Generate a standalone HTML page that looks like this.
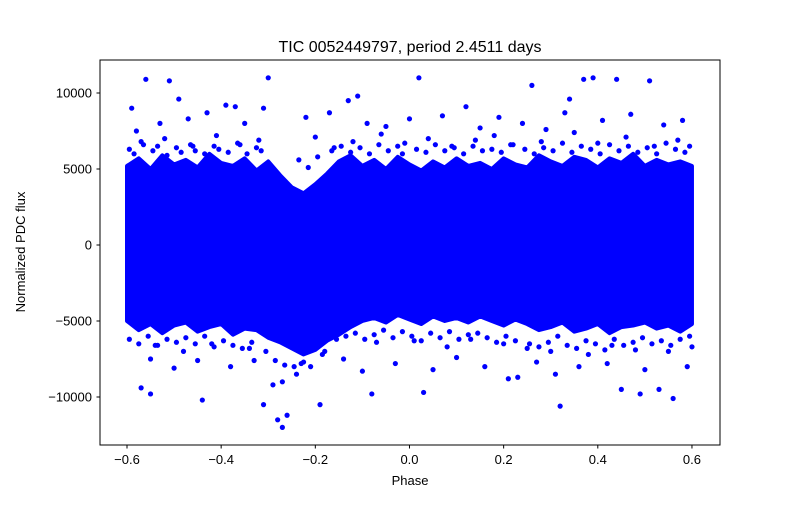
<!DOCTYPE html>
<html><head><meta charset="utf-8"><style>
body{margin:0;background:#fff}
text{font-family:"Liberation Sans","DejaVu Sans",sans-serif;fill:#000}
</style></head><body>
<svg id="chart" width="800" height="500" viewBox="0 0 800 500" xmlns="http://www.w3.org/2000/svg">
<rect width="800" height="500" fill="#fff"/>
<g id="marks"></g>
<rect x="100" y="60" width="620" height="385" fill="none" stroke="#000" stroke-width="1"/>
<g id="axes"></g>
<text x="410" y="52" font-size="16" text-anchor="middle">TIC 0052449797, period 2.4511 days</text>
<text x="410" y="485" font-size="13" text-anchor="middle">Phase</text>
<text x="25" y="252" font-size="13" text-anchor="middle" transform="rotate(-90 25 252)">Normalized PDC flux</text>
</svg>
<script>
const binPhase=[-0.6,-0.575,-0.55,-0.525,-0.5,-0.475,-0.45,-0.425,-0.4,-0.375,-0.35,-0.325,-0.3,-0.275,-0.25,-0.225,-0.2,-0.175,-0.15,-0.125,-0.1,-0.075,-0.05,-0.025,0,0.025,0.05,0.075,0.1,0.125,0.15,0.175,0.2,0.225,0.25,0.275,0.3,0.325,0.35,0.375,0.4,0.425,0.45,0.475,0.5,0.525,0.55,0.575,0.6];
const bandUpper=[5200,5700,5000,5900,5300,5600,5100,6000,5400,5200,5700,4900,5500,4600,3800,3400,4000,4700,5500,5900,5200,5600,5000,5800,5300,4900,5500,5100,5700,5200,5400,5000,5700,5300,5100,5900,5500,5200,5800,5600,5100,5700,5400,6000,5200,5600,5300,5500,5200];
const bandLower=[-5000,-5600,-5200,-5800,-5300,-5100,-5700,-5400,-5200,-5900,-5500,-5600,-6100,-6400,-6800,-7200,-6900,-6300,-5900,-5400,-5000,-4800,-5100,-4600,-4900,-5200,-4700,-5000,-4800,-5100,-4700,-5000,-5300,-4900,-5200,-5600,-5400,-5100,-5700,-5500,-5200,-5800,-5400,-5300,-5100,-5500,-5300,-5700,-5200];
const outPhase=[-0.56,-0.51,-0.30,0.02,0.26,0.37,0.39,0.44,0.51,-0.59,-0.49,-0.39,-0.37,-0.31,-0.11,-0.13,0.12,0.34,-0.27,-0.28,-0.26,-0.31,-0.19,-0.44,-0.55,-0.57,-0.08,0.03,0.21,0.23,0.32,0.45,0.49,0.56,0.53,
-0.58,-0.53,-0.47,-0.43,-0.35,-0.22,-0.17,-0.09,-0.05,0.0,0.07,0.15,0.19,0.24,0.29,0.33,0.41,0.47,0.54,0.58,
-0.55,-0.5,-0.45,-0.38,-0.33,-0.29,-0.24,-0.21,-0.14,-0.1,-0.03,0.05,0.1,0.16,0.27,0.31,0.36,0.42,0.5,0.59,
-0.57,-0.52,-0.46,-0.41,-0.36,-0.32,-0.2,-0.16,-0.12,-0.06,-0.01,0.04,0.09,0.14,0.18,0.22,0.28,0.35,0.4,0.46,0.52,0.57,
-0.54,-0.48,-0.42,-0.34,-0.27,-0.23,-0.18,-0.07,0.01,0.08,0.13,0.2,0.25,0.3,0.38,0.43,0.48,0.55,0.6,
-0.595,-0.585,-0.565,-0.545,-0.535,-0.515,-0.495,-0.485,-0.465,-0.455,-0.435,-0.415,-0.405,-0.385,-0.365,-0.345,-0.325,-0.315,-0.235,-0.215,-0.195,-0.165,-0.145,-0.125,-0.105,-0.085,-0.065,-0.045,-0.025,-0.015,0.015,0.035,0.055,0.075,0.095,0.115,0.135,0.155,0.175,0.195,0.215,0.245,0.265,0.285,0.305,0.325,0.345,0.365,0.385,0.405,0.425,0.445,0.465,0.485,0.505,0.525,0.545,0.565,0.585,0.595,
-0.595,-0.575,-0.555,-0.535,-0.515,-0.495,-0.475,-0.455,-0.435,-0.415,-0.395,-0.375,-0.355,-0.335,-0.305,-0.285,-0.265,-0.245,-0.225,-0.185,-0.155,-0.135,-0.115,-0.095,-0.075,-0.055,-0.035,-0.015,0.005,0.025,0.045,0.065,0.085,0.105,0.125,0.145,0.165,0.185,0.205,0.225,0.255,0.275,0.295,0.315,0.335,0.355,0.375,0.395,0.415,0.435,0.455,0.475,0.495,0.515,0.535,0.555,0.575,0.595];
const outFlux=[10900,10800,11000,11000,10500,10900,11000,10900,10800,9000,9600,9200,9100,9000,9800,9500,9100,9600,-12000,-11500,-11200,-10500,-10500,-10200,-9800,-9400,-9800,-9700,-8800,-8700,-10600,-9500,-9800,-10100,-9500,
7500,8000,8300,8700,8000,8400,8700,8000,7800,8300,8500,7700,8400,8000,7600,8700,8200,8600,7900,8200,
-7500,-8100,-7600,-8000,-7600,-9200,-8500,-8000,-7500,-8300,-7800,-8200,-7400,-8000,-7700,-8500,-8000,-7800,-8200,-8000,
6800,7000,6500,7200,6600,6900,7100,6400,6800,7300,6700,7000,6500,6900,7200,6600,6800,7400,6700,7100,6500,6900,
-6600,-7000,-6500,-6800,-9000,-7800,-7000,-6400,-6300,-6700,-6200,-6500,-6800,-7000,-7200,-6600,-6900,-7000,-6700,
6300,6000,6600,6200,6500,5900,6400,6100,6600,6200,6000,6500,6300,6100,6700,6000,6400,6200,5600,5100,5800,6200,6500,6100,6400,6000,6600,6200,6500,6000,6300,6100,6600,6200,6400,6000,6500,6200,6300,6100,6600,6300,6000,6400,6200,6700,6100,6500,6300,6000,6600,6200,6500,6100,6400,6000,6700,6300,6100,6500,
-6200,-6500,-6000,-6600,-6200,-6400,-6100,-6500,-6000,-6700,-6300,-6600,-6800,-6400,-7000,-7600,-7900,-8000,-7700,-7200,-6200,-6000,-5800,-6200,-5900,-5600,-6100,-5700,-6000,-6300,-5800,-6100,-5700,-6200,-5900,-5800,-6100,-6400,-6000,-6300,-6500,-6700,-6400,-6000,-6600,-6800,-6300,-6500,-6900,-6200,-6600,-6400,-6100,-6500,-6300,-6600,-6200,-6000];
const xTicks=[-0.6,-0.4,-0.2,0,0.2,0.4,0.6];
const xTickLabels=["\u22120.6","\u22120.4","\u22120.2","0.0","0.2","0.4","0.6"];
const yTicks=[-10000,-5000,0,5000,10000];
const yTickLabels=["\u221210000","\u22125000","0","5000","10000"];
const X=p=>127+(p+0.6)*470.8;
const Y=v=>245-v*0.0152;
const NS="http://www.w3.org/2000/svg";
const marks=document.getElementById('marks'), axes=document.getElementById('axes');
let d="";
binPhase.forEach((p,i)=>{d+=(i?"L":"M")+X(p)+","+Y(bandUpper[i]);});
for(let i=binPhase.length-1;i>=0;i--)d+="L"+X(binPhase[i])+","+Y(bandLower[i]);
const band=document.createElementNS(NS,'path');


band.setAttribute('d',d+"Z");band.setAttribute('fill','#0000ff');band.setAttribute('stroke','#0000ff');band.setAttribute('stroke-width','4');band.setAttribute('stroke-linejoin','round');
marks.appendChild(band);
outPhase.forEach((p,i)=>{const c=document.createElementNS(NS,'circle');


c.setAttribute('cx',X(p));c.setAttribute('cy',Y(outFlux[i]));c.setAttribute('r','2.6');c.setAttribute('fill','#0000ff');marks.appendChild(c);});
xTicks.forEach((t,i)=>{const l=document.createElementNS(NS,'line');


l.setAttribute('x1',X(t));l.setAttribute('x2',X(t));l.setAttribute('y1',445);l.setAttribute('y2',448.5);l.setAttribute('stroke','#000');axes.appendChild(l);
const tx=document.createElementNS(NS,'text');


tx.setAttribute('x',X(t));tx.setAttribute('y',464);tx.setAttribute('font-size','13');tx.setAttribute('text-anchor','middle');tx.textContent=xTickLabels[i];axes.appendChild(tx);});
yTicks.forEach((t,i)=>{const l=document.createElementNS(NS,'line');


l.setAttribute('x1',96.5);l.setAttribute('x2',100);l.setAttribute('y1',Y(t));l.setAttribute('y2',Y(t));l.setAttribute('stroke','#000');axes.appendChild(l);
const tx=document.createElementNS(NS,'text');


tx.setAttribute('x',92);tx.setAttribute('y',Y(t)+4.5);tx.setAttribute('font-size','13');tx.setAttribute('text-anchor','end');tx.textContent=yTickLabels[i];axes.appendChild(tx);});
</script>
</body></html>
